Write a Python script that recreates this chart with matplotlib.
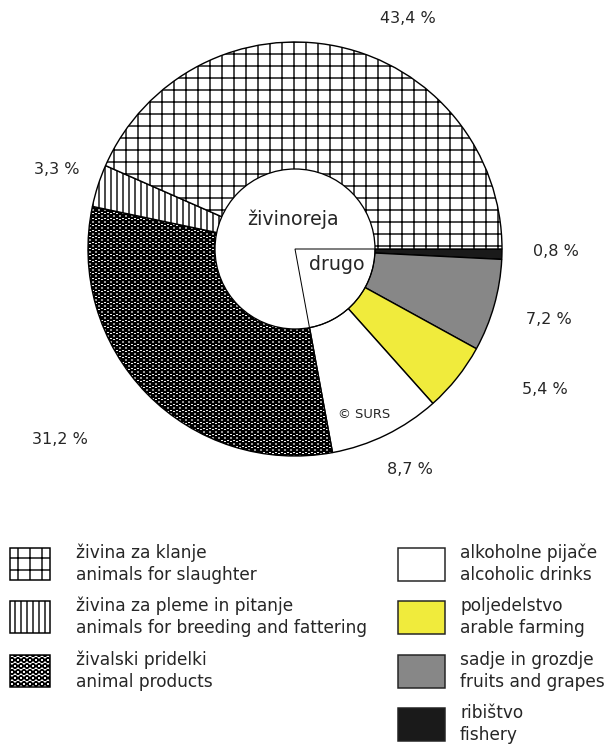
import matplotlib
matplotlib.use("Agg")
import matplotlib.pyplot as plt
from matplotlib.patches import Circle, Wedge, Rectangle

# ---- data ----
categories = ["ribištvo", "sadje in grozdje", "poljedelstvo", "alkoholne pijače",
              "živalski pridelki", "živina za pleme in pitanje", "živina za klanje"]
values = [0.8, 7.2, 5.4, 8.7, 31.2, 3.3, 43.4]
value_labels = ["0,8 %", "7,2 %", "5,4 %", "8,7 %", "31,2 %", "3,3 %", "43,4 %"]
colors = ["#1a1a1a", "#878787", "#f0eb3c", "#ffffff", "#ffffff", "#ffffff", "#ffffff"]
hatches = [None, None, None, None, "OO", "||", "+"]
other_group = ["ribištvo", "sadje in grozdje", "poljedelstvo", "alkoholne pijače"]

legend_left = [("živina za klanje", "animals for slaughter"),
               ("živina za pleme in pitanje", "animals for breeding and fattering"),
               ("živalski pridelki", "animal products")]
legend_left_keys = ["živina za klanje", "živina za pleme in pitanje", "živalski pridelki"]
legend_right = [("alkoholne pijače", "alcoholic drinks"),
                ("poljedelstvo", "arable farming"),
                ("sadje in grozdje", "fruits and grapes"),
                ("ribištvo", "fishery")]

W, H, DPI = 609, 745, 72
plt.rcParams['font.family'] = ['DejaVu Sans']
plt.rcParams['hatch.linewidth'] = 1.4
TXT = "#262626"

fig = plt.figure(figsize=(W / DPI, H / DPI), dpi=DPI)
fig.patch.set_facecolor("white")

# pie axes: center (295,249) px, radius 207 px
cx, cy, R = 295, 249, 207
ax = fig.add_axes([(cx - R) / W, 1 - (cy + R) / H, 2 * R / W, 2 * R / H])

wedges, _ = ax.pie(values, colors=colors, startangle=0, counterclock=False, radius=1,
                   wedgeprops=dict(edgecolor="black", linewidth=1.4))
ax.set_xlim(-1, 1)
ax.set_ylim(-1, 1)
ax.set_aspect("equal")
ax.axis("off")
for w, h in zip(wedges, hatches):
    if h:
        w.set_hatch(h)
        if h.startswith("O"):
            try:
                w.set_hatch_linewidth(1.9)
            except AttributeError:
                w._hatch_linewidth = 1.9

# donut hole
r_in = 80 / R
ax.add_patch(Circle((0, 0), r_in, facecolor="white", edgecolor="black", lw=1.3, zorder=5))
other_share = sum(v for c, v in zip(categories, values) if c in other_group)
theta1 = -other_share / sum(values) * 360
ax.add_patch(Wedge((0, 0), r_in, theta1, 0, facecolor="none", edgecolor="black", lw=1.0, zorder=6))

def px(x, y):
    return ((x - cx) / R, (cy - y) / R)

ax.text(*px(293, 219), "živinoreja", fontsize=19, ha="center", va="center", color=TXT, zorder=7)
ax.text(*px(337, 265), "drugo", fontsize=19, ha="center", va="center", color=TXT, zorder=7)
ax.text(*px(364, 415), "© SURS", fontsize=13, ha="center", va="center", color=TXT, zorder=7)

label_pos = [(556, 252), (549, 320), (545, 390), (410, 470), (60, 440), (57, 170), (408, 18)]
for lab, (x, y) in zip(value_labels, label_pos):
    ax.text(*px(x, y), lab, fontsize=16, ha="center", va="center", color=TXT, clip_on=False)

# legend in pixel coordinates
lg = fig.add_axes([0, 0, 1, 1], zorder=-1)
lg.set_xlim(0, W)
lg.set_ylim(H, 0)
lg.axis("off")

row_y = [564, 617, 671, 724]
for (sl, en), key, y in zip(legend_left, legend_left_keys, row_y):
    i = categories.index(key)
    p = Rectangle((10, y - 16), 40, 32, facecolor=colors[i], edgecolor="black",
                  lw=1.5, hatch=hatches[i])
    lg.add_patch(p)
    lg.text(76, y - 11, sl, fontsize=17, va="center", ha="left", color=TXT)
    lg.text(76, y + 11, en, fontsize=17, va="center", ha="left", color=TXT)

for (sl, en), y in zip(legend_right, row_y):
    i = categories.index(sl)
    lg.add_patch(Rectangle((398, y - 16), 47, 33, facecolor=colors[i], edgecolor="#222222",
                           lw=1.5, hatch=hatches[i]))
    lg.text(460, y - 11, sl, fontsize=17, va="center", ha="left", color=TXT)
    lg.text(460, y + 11, en, fontsize=17, va="center", ha="left", color=TXT)

fig.savefig("out.png", dpi=DPI, facecolor="white")
